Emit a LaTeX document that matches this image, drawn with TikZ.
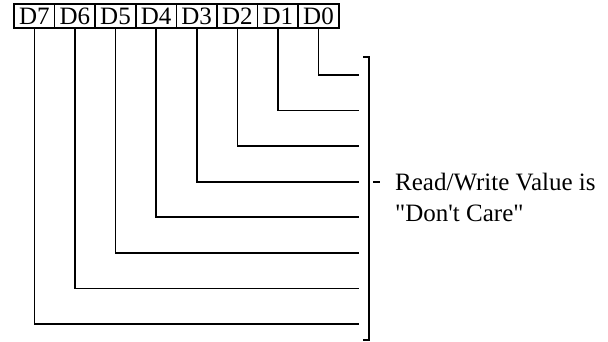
\documentclass[tikz,border=0pt]{standalone}
\usepackage{fontspec}
\setmainfont{Liberation Serif}
\begin{document}
\begin{tikzpicture}[x=1pt,y=-1pt,
  cell/.style={draw,line width=1.5pt,minimum width=40.6pt,minimum height=24pt,inner sep=0pt,
    font=\fontsize{25}{25}\selectfont},
  wire/.style={line width=1.6pt},
  lbl/.style={anchor=base west,inner sep=0pt,font=\fontsize{25}{25}\selectfont}]
\useasboundingbox (0,0) rectangle (608,342);
\foreach \i in {0,...,7}{
  \node[cell] (c\i) at ({14+20.3+(7-\i)*40.6},16) {D\i};
}
\foreach \i in {0,...,7}{
  \coordinate (e\i) at (359,{75+\i*35.57});
  \draw[wire] (c\i.south) |- (e\i);
}
\coordinate (bt) at (369,57);
\coordinate (bb) at (369,340);
\draw[wire] ([xshift=-6pt]bt) -- (bt) -- (bb) -- ([xshift=-6pt]bb);
\coordinate (d1) at (373,182);
\coordinate (d2) at (380,182);
\draw[wire] (d1) -- (d2);
\node[lbl] (t1) at (395,190) {Read/Write Value is};
\node[lbl] (t2) at (395,222) {\textquotedbl{}Don\textquotesingle{}t Care\textquotedbl};
\end{tikzpicture}
\end{document}
